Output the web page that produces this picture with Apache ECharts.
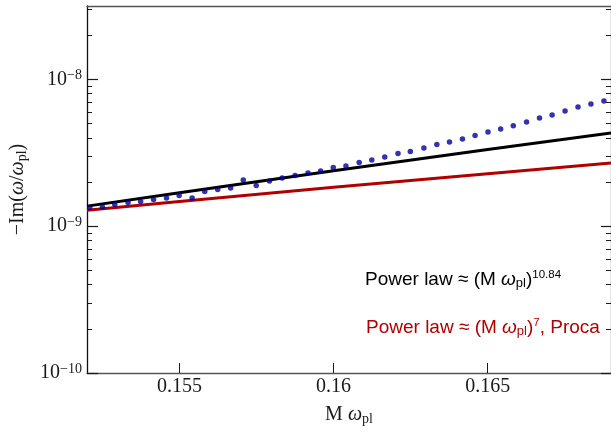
<!DOCTYPE html>
<html>
<head>
<meta charset="utf-8">
<script src="https://cdn.jsdelivr.net/npm/echarts@6/dist/echarts.min.js"></script>
<style>html,body{margin:0;padding:0;background:#fff}#chart{width:611px;height:433px}</style>
</head>
<body>
<div id="chart"></div>
<script>
// ---- data ----
var xRange = [0.152, 0.169];
var yRange = [1e-10, 3.1623e-8];
var xTickValues = [0.155, 0.16, 0.165];
var xTickLabels = ['0.155', '0.16', '0.165'];
var yTickValues = [1e-10, 1e-9, 1e-8];
var yTickExponents = ['−10', '−9', '−8'];
var yMinorTicks = [2e-10, 3e-10, 4e-10, 5e-10, 6e-10, 7e-10, 8e-10, 9e-10,
                   2e-9, 3e-9, 4e-9, 5e-9, 6e-9, 7e-9, 8e-9, 9e-9,
                   2e-8, 3e-8];

var dotsX = [0.15209, 0.15250, 0.15290, 0.15333, 0.15374, 0.15416, 0.15458, 0.15499, 0.15541, 0.15582,
             0.15624, 0.15666, 0.15707, 0.15749, 0.15792, 0.15833, 0.15875, 0.15917, 0.15958, 0.15999,
             0.16040, 0.16083, 0.16124, 0.16166, 0.16209, 0.16249, 0.16293, 0.16335, 0.16376, 0.16418,
             0.16459, 0.16501, 0.16542, 0.16583, 0.16626, 0.16668, 0.16709, 0.16751, 0.16793, 0.16835,
             0.16877];
var dotsY = [1.341e-9, 1.353e-9, 1.405e-9, 1.450e-9, 1.472e-9, 1.519e-9, 1.557e-9, 1.617e-9, 1.557e-9, 1.722e-9,
             1.777e-9, 1.822e-9, 2.065e-9, 1.892e-9, 2.033e-9, 2.131e-9, 2.213e-9, 2.305e-9, 2.378e-9, 2.508e-9,
             2.572e-9, 2.713e-9, 2.825e-9, 2.961e-9, 3.123e-9, 3.222e-9, 3.409e-9, 3.596e-9, 3.745e-9, 3.926e-9,
             4.140e-9, 4.381e-9, 4.591e-9, 4.842e-9, 5.123e-9, 5.454e-9, 5.716e-9, 6.086e-9, 6.478e-9, 6.792e-9,
             7.118e-9];

var fitX = [0.152, 0.155, 0.16, 0.165, 0.169];
var fitBlackY = [1.37e-9, 1.69e-9, 2.39e-9, 3.33e-9, 4.32e-9];
var fitRedY = [1.285e-9, 1.473e-9, 1.84e-9, 2.28e-9, 2.70e-9];

var legendBlack = ['Power law ≈ (M ', 'ω', 'pl', ')', '10.84', ''];
var legendRed = ['Power law ≈ (M ', 'ω', 'pl', ')', '7', ', Proca'];

// ---- helpers ----
function pairs(xs, ys) { return xs.map(function (x, i) { return [x, ys[i]]; }); }
var SERIF = 'Liberation Serif';
var SANS = 'Liberation Sans';
var INK = '#1a1a1a';
var FRAME = '#555';

function legendText(p) {
  var s = '{t|' + p[0] + '}{i|' + p[1] + '}{sub|' + p[2] + '}{t|' + p[3] + '}{sup|' + p[4] + '}';
  if (p[5]) s += '{t|' + p[5] + '}';
  return s;
}
function legendRich(color) {
  return {
    t: { fontFamily: SANS, fontSize: 19, lineHeight: 21, verticalAlign: 'middle', fill: color },
    i: { fontFamily: SANS, fontSize: 19, fontStyle: 'italic', lineHeight: 21, verticalAlign: 'middle', fill: color },
    sub: { fontFamily: SANS, fontSize: 13, lineHeight: 10, verticalAlign: 'bottom', fill: color },
    sup: { fontFamily: SANS, fontSize: 11.5, lineHeight: 7, verticalAlign: 'top', fill: color }
  };
}

var serifRich = {
  t: { fontFamily: SERIF, fontSize: 20, lineHeight: 22, verticalAlign: 'middle', color: INK },
  i: { fontFamily: SERIF, fontSize: 20, fontStyle: 'italic', lineHeight: 22, verticalAlign: 'middle', color: INK },
  sub: { fontFamily: SERIF, fontSize: 14, lineHeight: 10, verticalAlign: 'bottom', color: INK },
  b: { fontFamily: SERIF, fontSize: 20, lineHeight: 22, verticalAlign: 'middle', color: INK },
  s: { fontFamily: SERIF, fontSize: 14, lineHeight: 10, verticalAlign: 'top', color: INK }
};

var chart = echarts.init(document.getElementById('chart'), null, { renderer: 'canvas' });

var commonX = { type: 'value', min: xRange[0], max: xRange[1], splitLine: { show: false } };
var commonY = { type: 'log', logBase: 10, min: yRange[0], max: yRange[1], splitLine: { show: false } };

var option = {
  animation: false,
  backgroundColor: '#fff',
  grid: { left: 87, right: 0, top: 6, bottom: 60, containLabel: false },
  xAxis: [
    Object.assign({}, commonX, {
      position: 'bottom',
      axisLine: { show: true, lineStyle: { color: FRAME, width: 1.3 } },
      axisTick: { show: true, inside: true, length: 10, customValues: xTickValues, lineStyle: { color: INK, width: 1 } },
      axisLabel: {
        show: true, margin: 4, customValues: xTickValues,
        fontFamily: SERIF, fontSize: 20, color: INK,
        formatter: function (v) {
          var k = xTickValues.findIndex(function (t) { return Math.abs(t - v) < 1e-9; });
          return k >= 0 ? xTickLabels[k] : '';
        }
      },
      name: '{t|M }{i|ω}{sub|pl}',
      nameLocation: 'middle',
      nameGap: 31,
      nameTextStyle: { rich: serifRich }
    }),
    Object.assign({}, commonX, {
      position: 'top',
      axisLine: { show: true, lineStyle: { color: FRAME, width: 1.3 } },
      axisTick: { show: false },
      axisLabel: { show: false }
    })
  ],
  yAxis: [
    Object.assign({}, commonY, {
      position: 'left',
      axisLine: { show: true, lineStyle: { color: '#111', width: 1.3 } },
      axisTick: { show: true, inside: true, length: 11, customValues: yTickValues, lineStyle: { color: INK, width: 1.2 } },
      axisLabel: {
        show: true, margin: 5, customValues: yTickValues,
        formatter: function (v) {
          var e = Math.round(Math.log10(v));
          var k = yTickValues.findIndex(function (t) { return Math.round(Math.log10(t)) === e; });
          return '{b|10}{s|' + yTickExponents[k] + '}';
        },
        rich: serifRich
      },
      name: '{t|−Im(}{i|ω}{t|/}{i|ω}{sub|pl}{t|)}',
      nameLocation: 'middle',
      nameRotate: 90,
      nameGap: 57,
      nameTextStyle: { rich: serifRich }
    }),
    Object.assign({}, commonY, {
      position: 'left',
      axisLine: { show: false },
      axisTick: { show: true, inside: true, length: 5, customValues: yMinorTicks, lineStyle: { color: INK, width: 1 } },
      axisLabel: { show: false }
    }),
    Object.assign({}, commonY, {
      position: 'right',
      axisLine: { show: true, lineStyle: { color: FRAME, width: 1.3 } },
      axisTick: { show: true, inside: true, length: 10, customValues: yTickValues, lineStyle: { color: INK, width: 1.2 } },
      axisLabel: { show: false }
    }),
    Object.assign({}, commonY, {
      position: 'right',
      axisLine: { show: false },
      axisTick: { show: true, inside: true, length: 5, customValues: yMinorTicks, lineStyle: { color: INK, width: 1 } },
      axisLabel: { show: false }
    })
  ],
  series: [
    {
      name: 'Power law 10.84', type: 'line', xAxisIndex: 0, yAxisIndex: 0,
      data: pairs(fitX, fitBlackY), showSymbol: false, symbol: 'none',
      lineStyle: { color: '#000', width: 3 }, z: 2
    },
    {
      name: 'Power law 7, Proca', type: 'line', xAxisIndex: 0, yAxisIndex: 0,
      data: pairs(fitX, fitRedY), showSymbol: false, symbol: 'none',
      lineStyle: { color: '#b00000', width: 3 }, z: 2
    },
    {
      name: 'data', type: 'scatter', xAxisIndex: 0, yAxisIndex: 0,
      data: pairs(dotsX, dotsY), symbol: 'circle', symbolSize: 5.5,
      itemStyle: { color: '#00009c' }, z: 3
    }
  ],
  graphic: [
    {
      type: 'text', left: 365, top: 269, silent: true,
      style: { text: legendText(legendBlack), rich: legendRich('#000') }
    },
    {
      type: 'text', left: 366, top: 317, silent: true,
      style: { text: legendText(legendRed), rich: legendRich('#b00000') }
    }
  ]
};

chart.setOption(option);
</script>
</body>
</html>
